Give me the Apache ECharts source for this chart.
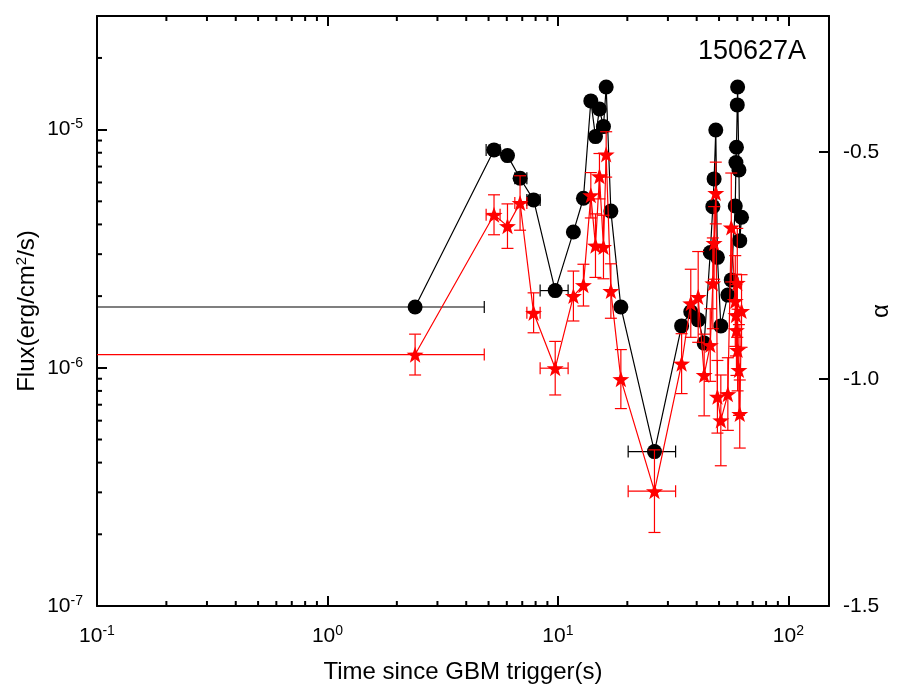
<!DOCTYPE html>
<html>
<head>
<meta charset="utf-8">
<script src="https://cdn.jsdelivr.net/npm/echarts@6/dist/echarts.min.js"></script>
<style>html,body{margin:0;padding:0;background:#fff}#c{width:917px;height:695px}</style>
</head>
<body>
<div id="c"></div>
<script>
// ---- data ----
const times  = [2.40, 5.28, 6.04, 6.85, 7.84, 9.73, 11.67, 12.90,
                13.89, 14.55, 15.14, 15.76, 16.19, 16.97, 18.75, 26.23,
                34.4, 37.7, 40.6, 43.1, 45.8, 47.0, 47.6, 48.4, 49.2, 50.9,
                54.6, 56.5, 58.8, 59.2, 59.5, 60.0, 60.2, 61.0, 61.5, 62.6];
const flux   = [1.80e-6, 8.22e-6, 7.78e-6, 6.25e-6, 5.07e-6, 2.11e-6, 3.72e-6, 5.15e-6,
                1.32e-5, 9.35e-6, 1.22e-5, 1.03e-5, 1.51e-5, 4.55e-6, 1.80e-6, 4.45e-7,
                1.50e-6, 1.72e-6, 1.59e-6, 1.27e-6, 3.05e-6, 4.75e-6, 6.21e-6, 9.97e-6, 2.91e-6, 1.50e-6,
                2.02e-6, 2.34e-6, 4.78e-6, 7.27e-6, 8.44e-6, 1.27e-5, 1.51e-5, 6.77e-6, 3.42e-6, 4.29e-6];
const alpha  = [-0.946, -0.638, -0.663, -0.612, -0.854, -0.976, -0.817, -0.793,
                -0.595, -0.706, -0.553, -0.709, -0.505, -0.806, -1.000, -1.247,
                -0.966, -0.833, -0.819, -0.991, -0.925, -0.789, -0.700, -0.590, -1.039, -1.091,
                -1.033, -0.666, -0.828, -0.859, -0.892, -0.788, -0.936, -0.980, -1.077, -0.850];
const alphaErr = [0.045, 0.044, 0.049, 0.060, 0.044, 0.059, 0.055, 0.046,
                  0.050, 0.070, 0.050, 0.070, 0.050, 0.060, 0.065, 0.091,
                  0.066, 0.075, 0.100, 0.090, 0.080, 0.100, 0.080, 0.068, 0.080, 0.100,
                  0.080, 0.120, 0.100, 0.090, 0.100, 0.120, 0.090, 0.100, 0.075, 0.080];
// time-bin edges where the horizontal error bars are visible (null = hidden behind marker)
const timeLo = [0, 4.88, null, 6.50, 7.33, 8.37, null, null,
                null, null, null, null, null, null, null, 20.17,
                null, null, null, null, null, null, null, null, null, null,
                null, null, null, null, null, null, null, null, null, null];
const timeHi = [4.79, 5.61, null, 7.33, 8.37, 11.07, null, null,
                null, null, null, null, null, null, null, 32.4,
                null, null, null, null, null, null, null, null, null, null,
                null, null, null, null, null, null, null, null, null, null];
const xTickValues = [0.1, 1, 10, 100];
const yTickValues = [1e-7, 1e-6, 1e-5];
const alphaTicks = [-1.5, -1.0, -0.5];
const X_MIN = 0.1, X_MAX = 150, F_MIN = 1e-7, F_MAX = 3e-5, A_MIN = -1.5, A_MAX = -0.2;

// ---- build ----
const FONT = 'Liberation Sans';
const STAR = 'path://M0,-10L2.35,-3.24L9.51,-3.09L3.8,1.24L5.88,8.09L0,4L-5.88,8.09L-3.8,1.24L-9.51,-3.09L-2.35,-3.24Z';

const fluxPts = times.map((t, i) => [t, flux[i]]);
const alphaPts = times.map((t, i) => [t, alpha[i]]);
const fluxErr = times.map((t, i) => [t, flux[i], timeLo[i] == null ? t : timeLo[i], timeHi[i] == null ? t : timeHi[i], flux[i], flux[i]]);
const alphaErrData = times.map((t, i) => [t, alpha[i], timeLo[i] == null ? t : timeLo[i], timeHi[i] == null ? t : timeHi[i], alpha[i] - alphaErr[i], alpha[i] + alphaErr[i]]);

const minorX = [];
for (let k = -1; k <= 2; k++) for (let m = 2; m <= 9; m++) { const v = m * Math.pow(10, k); if (v < X_MAX) minorX.push([v, 1e-6]); }
const minorY = [];
for (let k = -7; k <= -5; k++) for (let m = 2; m <= 9; m++) { const v = m * Math.pow(10, k); if (v < F_MAX * 0.999) minorY.push([1, v]); }

function isPow10(v, list) { return list.some(p => Math.abs(v / p - 1) < 1e-6); }
function supLabel(v, list) {
  if (!isPow10(v, list)) return '';
  const e = Math.round(Math.log10(v));
  return '{b|10}{s|' + e + '}';
}
const richSup = {
  b: { fontSize: 21, fontFamily: FONT, color: '#000' },
  s: { fontSize: 14, fontFamily: FONT, color: '#000', verticalAlign: 'bottom', padding: [0, 0, 10, 0] }
};

function errRender(color) {
  return function (params, api) {
    const t = api.value(0), v = api.value(1), xlo = api.value(2), xhi = api.value(3), ylo = api.value(4), yhi = api.value(5);
    const children = [];
    const st = { stroke: color, lineWidth: 1.2 };
    const cap = 6;
    if (yhi !== ylo) {
      const a = api.coord([t, ylo]), b = api.coord([t, yhi]);
      children.push({ type: 'line', shape: { x1: a[0], y1: a[1], x2: b[0], y2: b[1] }, style: st });
      children.push({ type: 'line', shape: { x1: a[0] - cap, y1: a[1], x2: a[0] + cap, y2: a[1] }, style: st });
      children.push({ type: 'line', shape: { x1: b[0] - cap, y1: b[1], x2: b[0] + cap, y2: b[1] }, style: st });
    }
    if (xhi !== xlo) {
      const lo = xlo <= 0 ? X_MIN : xlo;
      const a = api.coord([lo, v]), b = api.coord([xhi, v]);
      children.push({ type: 'line', shape: { x1: a[0], y1: a[1], x2: b[0], y2: b[1] }, style: st });
      if (xlo > 0) children.push({ type: 'line', shape: { x1: a[0], y1: a[1] - cap, x2: a[0], y2: a[1] + cap }, style: st });
      children.push({ type: 'line', shape: { x1: b[0], y1: b[1] - cap, x2: b[0], y2: b[1] + cap }, style: st });
    }
    return { type: 'group', children };
  };
}

const axisLine = { show: true, lineStyle: { color: '#000', width: 2 } };
const chart = echarts.init(document.getElementById('c'), null, { renderer: 'canvas' });
chart.setOption({
  animation: false,
  backgroundColor: '#fff',
  title: { text: '150627A', right: 106, top: 33, textStyle: { fontFamily: FONT, fontSize: 27, fontWeight: 'normal', color: '#000' } },
  grid: { left: 97, right: 88, top: 16, bottom: 89, containLabel: false, outerBoundsMode: 'none' },
  xAxis: [
    { type: 'log', logBase: 10, min: X_MIN, max: X_MAX, position: 'bottom',
      axisLine, splitLine: { show: false },
      axisTick: { show: true, inside: true, length: 10, lineStyle: { color: '#000', width: 2 } },
      axisLabel: { margin: 18, formatter: v => supLabel(v, xTickValues), rich: richSup, showMaxLabel: false },
      name: 'Time since GBM trigger(s)', nameLocation: 'middle', nameGap: 54, nameMoveOverlap: false,
      nameTextStyle: { fontFamily: FONT, fontSize: 24, color: '#000' } },
    { type: 'log', logBase: 10, min: X_MIN, max: X_MAX, position: 'top',
      axisLine, splitLine: { show: false },
      axisTick: { show: true, inside: true, length: 10, lineStyle: { color: '#000', width: 2 } },
      axisLabel: { show: false } }
  ],
  yAxis: [
    { type: 'log', logBase: 10, min: F_MIN, max: F_MAX, position: 'left',
      axisLine, splitLine: { show: false },
      axisTick: { show: true, inside: true, length: 10, lineStyle: { color: '#000', width: 2 } },
      axisLabel: { margin: 14, formatter: v => supLabel(v, yTickValues), rich: richSup, showMaxLabel: false },
      name: 'Flux(erg/cm{s|2}/s)', nameLocation: 'middle', nameGap: 57, nameMoveOverlap: false,
      nameTextStyle: { fontFamily: FONT, fontSize: 24, color: '#000',
        rich: { s: { fontSize: 15, fontFamily: FONT, color: '#000', verticalAlign: 'bottom', padding: [0, 0, 11, 0] } } } },
    { type: 'value', min: A_MIN, max: A_MAX, interval: 0.5, position: 'right',
      axisLine, splitLine: { show: false },
      axisTick: { show: true, inside: true, length: 10, lineStyle: { color: '#000', width: 2 } },
      axisLabel: { margin: 14, fontFamily: FONT, fontSize: 21, color: '#000',
        formatter: v => alphaTicks.some(a => Math.abs(a - v) < 1e-6) ? v.toFixed(1) : '' , showMaxLabel: false},
      name: 'α', nameLocation: 'middle', nameGap: 40, nameMoveOverlap: false,
      nameTextStyle: { fontFamily: FONT, fontSize: 24, color: '#000' } }
  ],
  series: [
    { type: 'custom', name: 'minorX', xAxisIndex: 0, yAxisIndex: 0, silent: true, z: 1, clip: false,
      data: minorX,
      renderItem: function (params, api) {
        const v = api.value(0);
        const b = api.coord([v, F_MIN]), t = api.coord([v, F_MAX]);
        const st = { stroke: '#000', lineWidth: 2 };
        return { type: 'group', children: [
          { type: 'line', shape: { x1: b[0], y1: b[1], x2: b[0], y2: b[1] - 5 }, style: st },
          { type: 'line', shape: { x1: t[0], y1: t[1], x2: t[0], y2: t[1] + 5 }, style: st }
        ] };
      } },
    { type: 'custom', name: 'minorY', xAxisIndex: 0, yAxisIndex: 0, silent: true, z: 1, clip: false,
      data: minorY,
      renderItem: function (params, api) {
        const v = api.value(1);
        const l = api.coord([X_MIN, v]);
        return { type: 'line', shape: { x1: l[0], y1: l[1], x2: l[0] + 5, y2: l[1] }, style: { stroke: '#000', lineWidth: 2 } };
      } },
    { type: 'custom', name: 'fluxErr', xAxisIndex: 0, yAxisIndex: 0, silent: true, z: 2,
      data: fluxErr, renderItem: errRender('#000') },
    { type: 'line', name: 'Flux', xAxisIndex: 0, yAxisIndex: 0, data: fluxPts, z: 3,
      symbol: 'circle', symbolSize: 15, itemStyle: { color: '#000' },
      lineStyle: { color: '#000', width: 1.2 } },
    { type: 'custom', name: 'alphaErr', xAxisIndex: 0, yAxisIndex: 1, silent: true, z: 4,
      data: alphaErrData, renderItem: errRender('#ff0000') },
    { type: 'line', name: 'alpha', xAxisIndex: 0, yAxisIndex: 1, data: alphaPts, z: 5,
      symbol: STAR, symbolKeepAspect: true, symbolSize: 17, itemStyle: { color: '#ff0000' },
      lineStyle: { color: '#ff0000', width: 1.2 } }
  ]
});
</script>
</body>
</html>
